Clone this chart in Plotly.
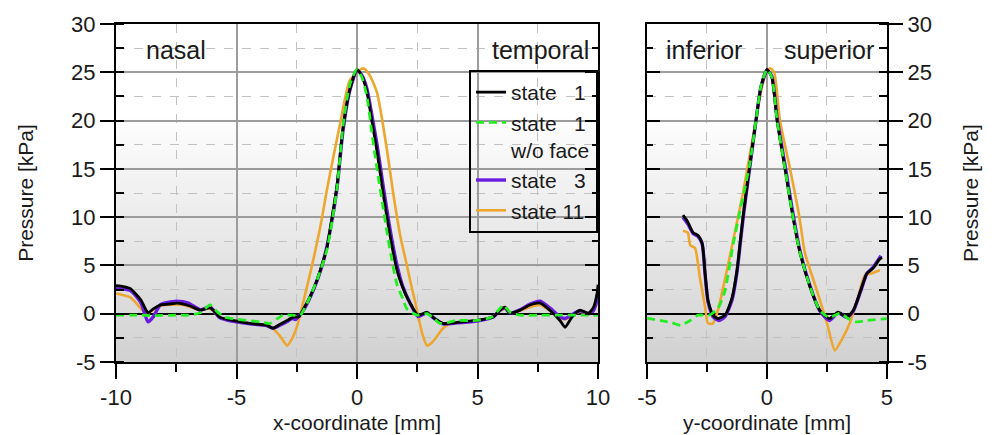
import plotly.graph_objects as go

# ---------------- data ----------------
# Left panel: pressure [kPa] vs x-coordinate [mm]
s1_x_L = [-10, -9.7, -9.4, -9.2, -8.96, -8.8, -8.67, -8.45, -8.17, -7.8, -7.47, -7.2, -6.93, -6.5, -6.1, -5.9,
          -5.7, -5.15, -4.44, -3.73, -3.49, -3.2, -2.9, -2.65, -2.4, -2.24, -2.0, -1.66, -1.4, -1.25, -1.1, -0.83,
          -0.58, -0.29, 0, 0.2, 0.41, 0.6, 0.83, 1.05, 1.24, 1.45, 1.66, 1.78, 2.0, 2.2, 2.53, 2.9, 3.15, 3.57,
          4.15, 4.98, 5.64, 5.93, 6.14, 6.35, 6.76, 7.18, 7.6, 8.0, 8.42, 8.63, 8.92, 9.25, 9.6, 9.8, 9.96, 10]
s1_p_L = [2.9, 2.8, 2.6, 2.1, 1.4, 0.6, 0.1, 0.5, 0.9, 1.0, 1.1, 1.0, 0.8, 0.36, 0.6, 0.2,
          -0.35, -0.7, -1.0, -1.2, -1.5, -1.1, -0.7, -0.35, -0.3, 0.4, 1.5, 3.5, 5.5, 6.8, 9.0, 13.3,
          19.3, 23.3, 25.3, 24.6, 23.0, 20.2, 16.8, 13.0, 10.0, 7.0, 4.5, 3.5, 2.1, 1.1, -0.15, 0.15, -0.35, -1.0,
          -0.9, -0.7, -0.35, 0.36, 0.67, 0.05, 0.36, 0.9, 1.1, 0.36, -0.7, -1.4, -0.35, 0.36, 0.05, 0.6, 2.1, 3.0]

s3_x_L = [-10, -9.4, -8.96, -8.67, -8.45, -8.17, -8.0, -7.47, -7.0, -6.5, -6.1, -5.7, -5.15, -4.44, -3.73,
          -3.49, -3.2, -2.9, -2.7, -2.55, -2.4, -2.24, -2.0, -1.66, -1.4, -1.1, -0.83, -0.58, -0.29, 0, 0.2,
          0.41, 0.6, 0.83, 1.05, 1.24, 1.45, 1.66, 1.9, 2.2, 2.53, 2.9, 3.15, 3.57, 4.15, 4.98, 5.64, 5.93,
          6.14, 6.35, 6.76, 7.18, 7.6, 8.0, 8.42, 8.63, 8.92, 9.25, 9.6, 9.8, 9.96, 10]
s3_p_L = [2.6, 2.4, 1.1, -0.85, -0.3, 0.9, 1.1, 1.3, 1.1, 0.4, 0.7, -0.4, -0.8, -1.05, -1.25,
          -1.5, -1.2, -0.8, -0.5, -0.6, -0.2, 0.3, 1.4, 3.4, 5.4, 8.8, 13.0, 19.0, 23.2, 25.2, 24.7,
          23.3, 20.8, 17.5, 13.8, 10.7, 7.6, 5.0, 2.8, 1.1, -0.3, 0.1, -0.4, -1.05, -0.95, -0.75, -0.35, 0.36,
          0.6, 0.05, 0.4, 1.0, 1.3, 0.6, -0.3, -0.5, -0.1, 0.3, 0.0, 0.3, 1.5, 2.5]

s11_x_L = [-10, -9.4, -9.2, -8.9, -8.67, -8.45, -8.17, -7.47, -7.2, -6.93, -6.5, -6.1, -5.7, -5.15, -4.44,
           -3.73, -3.5, -3.2, -2.9, -2.7, -2.5, -2.24, -1.82, -1.5, -1.25, -0.7, -0.29, 0.25, 0.5, 0.83, 1.24,
           1.5, 1.8, 2.07, 2.2, 2.49, 2.7, 2.9, 3.1, 3.3, 3.57, 3.9, 4.15, 4.98, 5.64, 5.93, 6.14, 6.35, 6.76,
           7.18, 7.6, 8.0, 8.42, 8.63, 8.92, 9.25, 9.6, 9.96, 10]
s11_p_L = [2.1, 1.7, 1.2, 0.36, 0.1, 0.4, 0.8, 0.95, 0.9, 0.7, 0.4, 0.55, -0.35, -0.7, -1.0,
           -1.2, -1.5, -2.3, -3.3, -2.6, -1.4, 1.1, 5.5, 9.3, 12.8, 19.7, 24.2, 25.4, 24.8, 22.9, 17.0,
           12.5, 8.0, 5.0, 3.5, 0.36, -2.0, -3.3, -3.0, -2.4, -1.5, -1.0, -0.9, -0.7, -0.35, 0.3, 0.5, 0.05, 0.3,
           0.7, 0.9, 0.3, -0.4, -0.6, -0.2, 0.2, 0.0, 1.0, 2.0]

s1wo_x_L = [-10, -9, -8.5, -7.5, -7.0, -6.5, -6.1, -5.8, -5.5, -5.0, -4.56, -4.0, -3.6, -3.3, -3.07, -2.7,
            -2.36, -2.07, -1.66, -1.25, -0.83, -0.58, -0.29, 0, 0.2, 0.41, 0.6, 0.83, 1.05, 1.24, 1.45, 1.66,
            1.91, 2.07, 2.49, 2.9, 3.2, 3.44, 4.15, 4.98, 5.6, 5.85, 6.07, 6.35, 6.76, 7.5, 8.5, 9.5, 10]
s1wo_p_L = [-0.15, -0.15, -0.2, -0.15, -0.15, 0.1, 0.9, 0.2, -0.35, -0.55, -0.7, -0.85, -1.0, -0.5, -0.15, -0.15,
            -0.15, 1.1, 3.5, 6.6, 13.0, 19.5, 23.8, 25.3, 24.5, 22.5, 19.0, 15.0, 11.5, 8.5, 5.5, 3.0,
            1.5, 0.5, -0.15, 0.0, -0.5, -1.0, -0.7, -0.7, -0.35, 0.3, 0.88, 0.15, -0.15, -0.15, -0.15, -0.15, -0.15]

# Right panel: pressure [kPa] vs y-coordinate [mm]
s1_y_R = [-3.5, -3.3, -3.08, -2.87, -2.7, -2.58, -2.46, -2.25, -2.04, -1.75, -1.46, -1.25, -1.1, -0.95,
          -0.71, -0.46, -0.25, 0, 0.2, 0.42, 0.75, 1.08, 1.375, 1.79, 2.2, 2.6, 2.96, 3.33, 3.6, 3.9, 4.17,
          4.42, 4.71, 4.8]
s1_p_R = [10.2, 9.5, 8.4, 8.1, 7.3, 4.2, 1.4, -0.15, -0.5, -0.15, 1.6, 4.5, 7.8, 11.0,
          15.5, 20.0, 23.5, 25.3, 24.5, 20.0, 15.0, 10.0, 6.3, 2.8, 0.36, -0.5, 0.15, -0.35, 0.36, 2.4, 4.2,
          4.7, 5.7, 5.8]

s3_y_R = [-3.5, -3.3, -3.08, -2.87, -2.7, -2.58, -2.46, -2.25, -2.0, -1.75, -1.46, -1.25, -1.1, -0.95,
          -0.71, -0.46, -0.25, 0, 0.2, 0.42, 0.75, 1.08, 1.375, 1.79, 2.2, 2.6, 2.96, 3.33, 3.6, 3.9, 4.17,
          4.42, 4.75]
s3_p_R = [10.0, 9.3, 8.3, 8.0, 7.2, 4.1, 1.3, -0.3, -0.7, -0.3, 1.4, 4.3, 7.6, 10.8,
          15.3, 20.0, 23.5, 25.2, 24.6, 20.3, 15.4, 10.4, 6.5, 2.9, 0.3, -0.7, 0.1, -0.4, 0.3, 2.3, 4.2,
          4.8, 6.0]

s11_y_R = [-3.5, -3.3, -3.2, -3.0, -2.8, -2.58, -2.46, -2.25, -2.04, -1.8, -1.5, -1.25, -1.0, -0.75, -0.5,
           -0.25, 0, 0.15, 0.3, 0.54, 0.96, 1.35, 1.58, 2.08, 2.5, 2.83, 3.1, 3.46, 3.79, 4.08, 4.38, 4.7]
s11_p_R = [8.6, 8.4, 7.1, 6.8, 3.8, 0.7, -1.0, -1.0, 0.4, 3.0, 6.5, 9.5, 12.5, 16.0, 19.5,
           23.0, 25.2, 25.4, 25.0, 20.0, 15.0, 10.0, 6.3, 2.4, -1.0, -3.8, -2.75, -0.9, 1.7, 4.0, 4.2, 4.5]

s1wo_y_R = [-5, -4.46, -4.0, -3.6, -3.2, -2.87, -2.4, -2.04, -1.75, -1.4, -1.12, -0.92, -0.71, -0.46, -0.25,
            0, 0.2, 0.42, 0.75, 1.08, 1.375, 1.79, 2.2, 2.6, 3.04, 3.38, 3.67, 4.17, 5.0]
s1wo_p_R = [-0.45, -0.7, -0.9, -1.2, -0.7, -0.15, -0.15, 0.57, 2.4, 7.3, 10.7, 13.0, 15.6, 20.0, 23.6,
            25.3, 24.5, 20.0, 15.0, 10.0, 6.3, 2.8, 0.36, -0.4, 0.05, -0.5, -0.85, -0.7, -0.5]

# tick values and labels
x_ticks_L = [-10, -5, 0, 5, 10]
x_labels_L = ["-10", "-5", "0", "5", "10"]
x_ticks_R = [-5, 0, 5]
x_labels_R = ["-5", "0", "5"]
p_ticks = [-5, 0, 5, 10, 15, 20, 25, 30]
p_labels = ["-5", "0", "5", "10", "15", "20", "25", "30"]

# names and colours
series = [
    # (name, colour, dash, width, legendrank, xL, pL, yR, pR)
    ("state\u00a011", "#eda62e", "solid", 2.6, 4, s11_x_L, s11_p_L, s11_y_R, s11_p_R),
    ("state\u00a0\u00a0\u00a03", "#6a1be0", "solid", 3.4, 3, s3_x_L, s3_p_L, s3_y_R, s3_p_R),
    ("state\u00a0\u00a0\u00a01", "#000000", "solid", 2.8, 1, s1_x_L, s1_p_L, s1_y_R, s1_p_R),
    ("state\u00a0\u00a0\u00a01<br>w/o face", "#22ee22", "8px,5px", 2.8, 2, s1wo_x_L, s1wo_p_L, s1wo_y_R, s1wo_p_R),
]

FONT = "Arial, 'Liberation Sans', sans-serif"
TXT = "#1a1a1a"

fig = go.Figure()
for name, col, dash, w, rank, xL, pL, yR, pR in series:
    line = dict(color=col, width=w, dash=dash, shape="spline", smoothing=0.6)
    fig.add_trace(go.Scatter(x=xL, y=pL, mode="lines", name=name, line=line, legendgroup=name,
                             legendrank=rank, xaxis="x", yaxis="y", hoverinfo="skip"))
    fig.add_trace(go.Scatter(x=yR, y=pR, mode="lines", name=name, line=line, legendgroup=name,
                             showlegend=False, xaxis="x2", yaxis="y2", hoverinfo="skip"))

# empty traces so that the inner-tick overlay axes get drawn
fig.add_trace(go.Scatter(x=[], y=[], xaxis="x", yaxis="y3", showlegend=False, hoverinfo="skip"))
fig.add_trace(go.Scatter(x=[], y=[], xaxis="x2", yaxis="y4", showlegend=False, hoverinfo="skip"))

grid_major = "#9c9c9c"
grid_minor = "#c2c2c2"

def xax(rng, dom, anchor, title, tv, tt):
    return dict(range=rng, domain=dom, anchor=anchor, tickmode="array", tickvals=tv, ticktext=tt,
                ticks="outside", ticklen=15, tickwidth=2, tickcolor="black",
                ticklabelstandoff=0,
                showline=True, linecolor="black", linewidth=2, mirror=True,
                showgrid=True, gridcolor=grid_major, gridwidth=1.5, zeroline=False,
                minor=dict(dtick=2.5, tick0=0, ticks="outside", ticklen=8, tickwidth=2, tickcolor="black",
                           showgrid=True, gridcolor=grid_minor, griddash="dash", gridwidth=1),
                tickfont=dict(size=22, color=TXT, family=FONT),
                title=dict(text=title, font=dict(size=21, color=TXT, family=FONT), standoff=6))

def yax(side, anchor, title):
    return dict(range=[-5, 30], domain=[0, 1], anchor=anchor, side=side,
                tickmode="array", tickvals=p_ticks, ticktext=p_labels,
                ticks="outside", ticklen=14, tickwidth=2, tickcolor="black",
                showline=True, linecolor="black", linewidth=2, mirror=True,
                showgrid=True, gridcolor=grid_major, gridwidth=1.5,
                zeroline=True, zerolinecolor="black", zerolinewidth=2,
                minor=dict(dtick=2.5, tick0=0, ticks="inside", ticklen=8, tickwidth=2, tickcolor="black",
                           showgrid=True, gridcolor=grid_minor, griddash="dash", gridwidth=1),
                tickfont=dict(size=22, color=TXT, family=FONT),
                title=dict(text=title, font=dict(size=21, color=TXT, family=FONT), standoff=32))

def yinner(side, anchor, over):
    return dict(range=[-5, 30], overlaying=over, anchor=anchor, side=side, dtick=5, tick0=0,
                ticks="inside", ticklen=13, tickwidth=2, tickcolor="black",
                showticklabels=False, showgrid=False, zeroline=False, showline=False,
                minor=dict(dtick=2.5, tick0=0, ticks="inside", ticklen=6, tickwidth=2, tickcolor="black"))

L_DOM = [0, 0.6252]
R_DOM = [0.6887, 1.0]

# gradient background (white at top, grey at bottom)
shapes = []
N = 70
for xr in ("x domain", "x2 domain"):
    for i in range(N):
        f = (i + 0.5) / N
        if f >= 0.74:
            c = 255
        else:
            c = int(round(255 - 46 * (1 - f / 0.74)))
        shapes.append(dict(type="rect", xref=xr, yref="y domain", x0=0, x1=1,
                           y0=i / N, y1=(i + 1) / N + 0.003, layer="below",
                           fillcolor=f"rgb({c},{c},{c})", line=dict(width=0)))

ann_font = dict(size=25, color=TXT, family=FONT)
annotations = [
    dict(text="nasal", xref="x domain", yref="y domain", x=0.058, y=0.923, xanchor="left",
         yanchor="middle", showarrow=False, font=ann_font),
    dict(text="temporal", xref="x domain", yref="y domain", x=0.985, y=0.923, xanchor="right",
         yanchor="middle", showarrow=False, font=ann_font),
    dict(text="inferior", xref="x2 domain", yref="y domain", x=0.07, y=0.923, xanchor="left",
         yanchor="middle", showarrow=False, font=ann_font),
    dict(text="superior", xref="x2 domain", yref="y domain", x=0.955, y=0.923, xanchor="right",
         yanchor="middle", showarrow=False, font=ann_font),
]

fig.update_layout(
    width=998, height=435,
    margin=dict(l=116, r=111, t=24, b=73, autoexpand=False),
    paper_bgcolor="white", plot_bgcolor="white",
    font=dict(family=FONT, color=TXT),
    xaxis=xax([-10, 10], L_DOM, "y", "x-coordinate [mm]", x_ticks_L, x_labels_L),
    xaxis2=xax([-5, 5], R_DOM, "y2", "y-coordinate [mm]", x_ticks_R, x_labels_R),
    yaxis=yax("left", "x", "Pressure [kPa]"),
    yaxis2=yax("right", "x2", "Pressure [kPa]"),
    yaxis3=yinner("right", "x", "y"),
    yaxis4=yinner("left", "x2", "y2"),
    shapes=shapes,
    annotations=annotations,
    showlegend=True,
    legend=dict(x=0.6252, xanchor="right", y=0.864, yanchor="top", xref="paper", yref="paper",
                bgcolor="rgba(0,0,0,0)", bordercolor="black", borderwidth=2,
                font=dict(size=21, color=TXT, family=FONT), traceorder="normal",
                valign="top", tracegroupgap=0, itemwidth=30),
)

fig.write_html("out.html", config={"displayModeBar": False},
               post_script="document.body.style.margin='0';document.body.style.padding='0';")
